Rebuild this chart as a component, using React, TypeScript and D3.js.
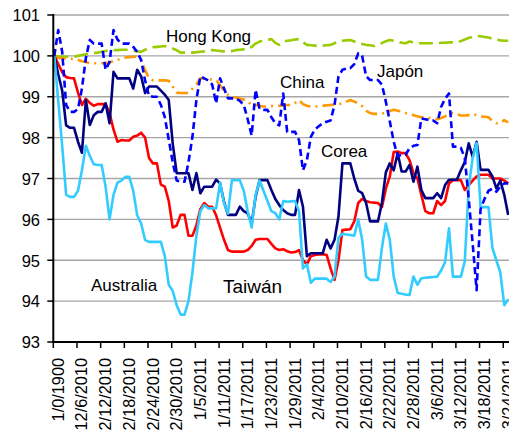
import React from "react";
import * as d3 from "d3";

// Category labels on the horizontal axis (one every 6 observations)
const dateLabels = [
  "1/0/1900", "12/6/2010", "2/12/2010", "2/18/2010", "2/24/2010", "2/30/2010",
  "1/5/2011", "1/11/2011", "1/17/2011", "1/23/2011", "1/29/2011", "2/4/2011",
  "2/10/2011", "2/16/2011", "2/22/2011", "2/28/2011", "3/6/2011", "3/12/2011",
  "3/18/2011", "3/24/2011",
];

const yTicks = [93, 94, 95, 96, 97, 98, 99, 100, 101];

// Index values (base = 100)
const hongKong = [
  100, 99.99, 99.98, 99.98, 99.98, 99.98, 100.0, 100.02, 100.04, 100.06,
  100.07, 100.08, 100.1, 100.12, 100.13, 100.14, 100.14, 100.15, 100.15, 100.15,
  100.13, 100.11, 100.1, 100.15, 100.18, 100.21, 100.22, 100.23, 100.24, 100.22,
  100.18, 100.14, 100.08, 100.08, 100.08, 100.08, 100.09, 100.1, 100.11, 100.13,
  100.14, 100.13, 100.12, 100.11, 100.1, 100.12, 100.14, 100.15, 100.16, 100.16,
  100.22, 100.3, 100.35, 100.37, 100.39, 100.41, 100.32, 100.27, 100.35, 100.37,
  100.38, 100.4, 100.41, 100.33, 100.27, 100.26, 100.25, 100.24, 100.25, 100.26,
  100.27, 100.31, 100.35, 100.37, 100.38, 100.39, 100.35, 100.31, 100.29, 100.27,
  100.26, 100.24, 100.28, 100.31, 100.36, 100.39, 100.37, 100.35, 100.32, 100.31,
  100.35, 100.33, 100.31, 100.31, 100.31, 100.31, 100.31, 100.31, 100.32, 100.32,
  100.33, 100.33, 100.34, 100.36, 100.4, 100.44, 100.47, 100.49, 100.48, 100.46,
  100.45, 100.42, 100.4, 100.38, 100.37, 100.37,
];

const china = [
  100, 99.95, 99.94, 99.94, 99.93, 99.92, 99.9, 99.87, 99.85, 99.82,
  99.82, 99.82, 99.82, 99.82, 99.84, 99.87, 99.9, 99.94, 99.96, 99.97,
  99.98, 99.98, 99.9, 99.65, 99.45, 99.4, 99.4, 99.4, 99.4, 99.39,
  99.25, 99.1, 99.09, 99.09, 99.09, 99.2, 99.3, 99.45, 99.45, 99.43,
  99.42, 99.41, 99.28, 99.15, 99.05, 99.0, 98.98, 98.95, 98.93, 98.9,
  98.78, 98.8, 98.78, 98.76, 98.76, 98.77, 98.78, 98.78, 98.79, 98.8,
  98.8, 98.85, 98.92, 98.82, 98.78, 98.76, 98.76, 98.77, 98.78, 98.79,
  98.8, 98.81, 98.82, 98.84, 98.88, 98.92, 98.88, 98.84, 98.77, 98.66,
  98.6, 98.58, 98.58, 98.59, 98.6, 98.65, 98.68, 98.66, 98.64, 98.6,
  98.57, 98.55, 98.52, 98.5, 98.49, 98.48, 98.47, 98.45, 98.48, 98.52,
  98.58, 98.6, 98.57, 98.54, 98.54, 98.55, 98.58, 98.55, 98.52, 98.51,
  98.5, 98.4, 98.35, 98.35, 98.43, 98.37,
];

const japon = [
  100, 100.63, 100.1, 98.8, 98.63, 98.63, 98.7, 99.2, 99.95, 100.39,
  100.3, 100.3, 100.3, 99.66, 99.85, 100.63, 100.4, 100.3, 100.3, 100.3,
  100.22, 100.1, 99.9, 99.4, 99.02, 99.0, 99.0, 98.8, 98.5, 97.95,
  97.4, 96.95, 96.92, 96.92, 97.4, 98.02, 98.92, 99.5, 99.45, 99.4,
  99.3, 98.84, 99.45, 99.2, 98.96, 98.96, 98.96, 98.9, 98.8, 98.45,
  98.05, 99.17, 98.7, 98.68, 98.68, 98.5, 98.35, 98.3, 99.08, 98.14,
  98.14, 98.14, 97.94, 97.2, 97.45, 98.02, 98.2, 98.28, 98.35, 98.39,
  98.42, 98.8, 99.5, 99.66, 99.69, 99.7, 99.8, 100.06, 100.0, 99.5,
  99.41, 99.41, 99.41, 99.3, 98.88, 98.4, 97.9, 97.55, 97.58, 97.58,
  97.74, 97.8, 97.82, 98.47, 98.45, 98.43, 98.42, 98.35, 98.75, 98.95,
  99.08, 97.78, 97.78, 97.75, 97.5, 96.5, 95.4, 94.27, 96.25, 96.5,
  96.7, 96.75, 96.68, 96.8, 96.88, 96.88,
];

const corea = [
  100, 99.55, 99.15, 98.3, 98.24, 98.24, 97.9, 97.63, 98.92, 98.31,
  98.55, 98.63, 98.63, 98.84, 98.35, 99.61, 99.45, 99.45, 99.45, 99.45,
  99.2, 99.66, 99.5, 99.09, 99.25, 99.25, 99.25, 99.15, 99.05, 98.92,
  97.86, 97.13, 97.13, 97.13, 97.13, 96.72, 97.13, 96.64, 96.8, 96.8,
  96.8, 96.97, 96.88, 96.43, 96.11, 96.11, 96.11, 96.31, 96.2, 96.15,
  95.9, 96.55, 96.96, 96.96, 96.96, 96.72, 96.5, 96.35, 96.23, 96.15,
  96.11, 96.11, 96.72, 96.31, 95.1, 95.17, 95.17, 95.17, 95.17, 95.5,
  95.29, 95.5, 96.07, 97.37, 97.37, 97.37, 97.0, 96.7, 96.64, 96.4,
  95.95, 95.95, 95.95, 96.4, 97.15, 97.37, 97.2, 97.62, 97.17, 97.17,
  97.33, 96.92, 97.29, 96.72, 96.52, 96.52, 96.52, 96.64, 96.52, 96.84,
  96.97, 96.97, 96.97, 97.2, 97.4, 97.86, 97.53, 97.9, 97.21, 97.21,
  97.21, 97.05, 96.76, 96.95, 96.6, 96.11,
];

const taiwan = [
  100, 99.8, 99.6, 99.48, 99.46, 99.45, 99.1, 98.8, 98.95, 98.85,
  98.78, 98.82, 98.82, 98.82, 98.6, 98.2, 97.9, 97.94, 97.93, 97.93,
  98.02, 98.05, 98.12, 98.0, 97.5, 97.37, 97.37, 96.85, 96.8, 96.45,
  95.8, 95.85, 96.11, 96.11, 95.6, 95.6, 95.85, 96.25, 96.4, 96.31,
  96.31, 96.1, 95.8, 95.5, 95.25, 95.21, 95.21, 95.21, 95.21, 95.25,
  95.35, 95.5, 95.52, 95.52, 95.52, 95.4, 95.29, 95.25, 95.27, 95.22,
  95.19, 95.2, 95.25, 95.0, 94.9, 95.1, 95.13, 95.14, 95.15, 95.13,
  94.8, 94.52, 95.0, 95.74, 95.75, 95.76, 95.95, 96.4, 96.5, 96.45,
  96.42, 96.41, 96.4, 96.3, 96.75, 97.05, 97.65, 97.66, 97.62, 97.62,
  97.45, 97.13, 97.0, 96.6, 96.2, 96.15, 96.15, 96.45, 96.35, 96.45,
  96.88, 96.96, 96.96, 96.96, 96.72, 96.84, 96.95, 97.05, 97.09, 97.09,
  97.09, 97.0, 97.0, 97.0, 96.95, 96.88,
];

const australia = [
  100, 98.9, 97.8, 96.6, 96.55, 96.55, 96.7, 97.2, 97.8, 97.55,
  97.35, 97.33, 97.33, 96.8, 96.0, 96.6, 96.9, 96.95, 97.04, 97.04,
  96.7, 96.1, 95.9, 95.5, 95.45, 95.45, 95.45, 95.45, 95.1, 94.4,
  94.25, 93.9, 93.67, 93.67, 94.0, 94.7, 95.6, 96.2, 96.35, 96.27,
  96.27, 96.27, 96.9, 96.4, 96.14, 96.96, 96.96, 96.96, 96.7, 96.2,
  95.8, 96.6, 96.95, 96.7, 96.45, 96.2, 96.15, 96.0, 96.45, 96.43,
  96.44, 96.45, 96.2, 94.8, 94.9, 94.45, 94.55, 94.55, 94.55, 94.55,
  94.47, 94.6, 95.55, 95.65, 95.63, 95.62, 95.6, 96.0, 95.5, 94.6,
  94.52, 94.52, 94.52, 95.3, 95.9, 95.5, 94.6, 94.2, 94.18, 94.16,
  94.15, 94.6, 94.4, 94.56, 94.57, 94.58, 94.59, 94.6, 94.75, 94.95,
  95.78, 94.6, 94.6, 94.6, 94.97, 96.8, 97.5, 97.87, 96.3, 96.3,
  96.3, 95.3, 95.0, 94.7, 93.9, 94.05,
];

const W = 509;
const H = 435;
const axisX = 53.3;
const font = "'Liberation Sans', Arial, sans-serif";

const x = d3.scaleLinear().domain([0, hongKong.length - 1]).range([54.3, 508.2]);
const y = d3.scaleLinear().domain([93, 101]).range([342, 15]);

const line = d3
  .line<number>()
  .x((_, i) => x(i))
  .y((d) => y(d));

const series = [
  { key: "hk", values: hongKong, color: "#99CC00", width: 2.6, dash: "14,6" },
  { key: "cn", values: china, color: "#FF9900", width: 2.6, dash: "12,5,2,5" },
  { key: "tw", values: taiwan, color: "#FF0000", width: 2.6, dash: undefined },
  { key: "kr", values: corea, color: "#000080", width: 2.6, dash: undefined },
  { key: "au", values: australia, color: "#33CCFF", width: 2.6, dash: undefined },
  { key: "jp", values: japon, color: "#0000FF", width: 2.6, dash: "7,4" },
];

const seriesLabels = [
  { text: "Hong Kong", x: 166, y: 41.5, size: 17 },
  { text: "China", x: 280, y: 88, size: 17 },
  { text: "Japón", x: 377, y: 77, size: 17 },
  { text: "Corea", x: 321, y: 157, size: 17 },
  { text: "Australia", x: 91, y: 290.5, size: 17 },
  { text: "Taiwán", x: 223, y: 292.7, size: 19 },
];

export default function App() {
  const tickIdx = dateLabels.map((_, k) => k * 6);
  return (
    <svg
      width={W}
      height={H}
      style={{ position: "absolute", left: 0, top: 0, background: "#fff", overflow: "hidden" }}
      fontFamily={font}
    >
      <rect width={W} height={H} fill="#fff" />
      {/* horizontal gridlines */}
      {yTicks
        .filter((t) => t !== 93)
        .map((t) => (
          <line key={"g" + t} x1={axisX} x2={W} y1={y(t)} y2={y(t)} stroke="#a6a6a6" strokeWidth={1.4} />
        ))}
      {/* series */}
      {series.map((s) => (
        <path
          key={s.key}
          d={line(s.values) || ""}
          fill="none"
          stroke={s.color}
          strokeWidth={s.width}
          strokeDasharray={s.dash}
          strokeLinejoin="round"
        />
      ))}
      {/* axes */}
      <line x1={axisX} x2={axisX} y1={y(101) - 1} y2={y(93)} stroke="#000" strokeWidth={2} />
      <line x1={axisX - 1} x2={W} y1={y(93)} y2={y(93)} stroke="#000" strokeWidth={2} />
      {yTicks.map((t) => (
        <g key={"yt" + t}>
          <line x1={axisX - 6} x2={axisX} y1={y(t)} y2={y(t)} stroke="#000" strokeWidth={1.5} />
          <text x={40} y={y(t)} dy="0.38em" textAnchor="end" fontSize={16.5} fill="#000">
            {t}
          </text>
        </g>
      ))}
      {tickIdx.map((i, k) => {
        const tx = x(i) - 1;
        return (
          <g key={"xt" + k}>
            <line x1={tx} x2={tx} y1={y(93)} y2={y(93) + 6} stroke="#000" strokeWidth={1.5} />
            <text
              transform={`translate(${tx + 10.5},358) rotate(-90)`}
              textAnchor="end"
              fontSize={16.3}
              fill="#000"
            >
              {dateLabels[k]}
            </text>
          </g>
        );
      })}
      {/* series names */}
      {seriesLabels.map((l) => (
        <text key={l.text} x={l.x} y={l.y} fontSize={l.size} fill="#000">
          {l.text}
        </text>
      ))}
    </svg>
  );
}
